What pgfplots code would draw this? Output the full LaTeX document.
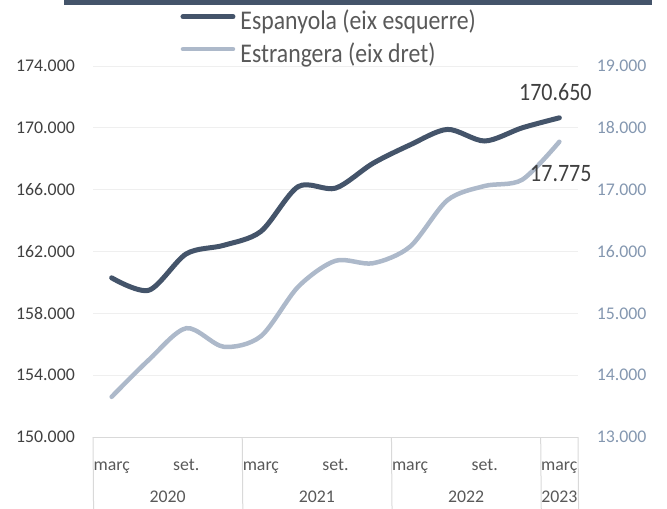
\documentclass[border=0pt]{standalone}
\usepackage{pgfplots}
\pgfplotsset{compat=1.18}
\usepackage{fontspec}
\setmainfont{Carlito}
\newfontfamily\legfont{Carlito}[FakeStretch=0.88]
\definecolor{darkser}{HTML}{44546A}
\definecolor{lightser}{HTML}{ADB9CA}
\definecolor{gridc}{HTML}{EFEFEF}
\definecolor{boxc}{HTML}{D9D9D9}
\definecolor{lefttxt}{HTML}{404040}
\definecolor{righttxt}{HTML}{8497B0}
\definecolor{cattxt}{HTML}{595959}
\definecolor{leadc}{HTML}{A6A6A6}
\pgfplotsset{
  base/.style={
    scale only axis, width=485bp, height=371bp,
    xmin=-0.5, xmax=12.5,
    major tick length=0pt,
    axis line style={draw=none},
    scaled y ticks=false,
    clip=false,
    /pgf/number format/fixed,
    /pgf/number format/precision=0,
    /pgf/number format/1000 sep={.},
    /pgf/number format/assume math mode=true,
    ticklabel style={font=\fontsize{17.8bp}{21bp}\selectfont, inner sep=0pt},
  },
}
\begin{document}
\begin{tikzpicture}
\begin{axis}[base, name=ax,
  ymin=150000, ymax=174000, ytick={150000,154000,158000,162000,166000,170000,174000},
  axis y line*=left, axis x line*=bottom,
  ymajorgrids, grid style={gridc, line width=1bp},
  yticklabel style={anchor=east, xshift=-18bp, text=lefttxt},
  xtick={0,2,4,6,8,10,12},
  xticklabels={març,set.,març,set.,març,set.,març},
  xticklabel style={anchor=base, yshift=-33bp, text=cattxt},
  legend style={draw=none, fill=none, inner sep=0pt, outer sep=0pt,
    at={(axis description cs:0.1804,1.152)}, anchor=north west,
    font=\legfont\fontsize{27bp}{30bp}\selectfont, text=cattxt,
    row sep=6.6bp, column sep=5bp,
    nodes={inner sep=0pt, text height=20bp, text depth=6bp}},
  legend cell align=left,
  legend image code/.code={\draw[#1, line cap=round] (0bp,6bp) -- (50bp,6bp);},
]
\addplot[darkser, line width=5bp, smooth, line cap=round] coordinates {
(0,160300) (1,159500) (2,161850) (3,162400) (4,163300) (5,166200) (6,166100)
(7,167700) (8,168900) (9,169900) (10,169150) (11,170000) (12,170650)};
\addlegendentry{Espanyola (eix esquerre)}
\addlegendimage{lightser, line width=4.5bp}
\addlegendentry{Estrangera (eix dret)}
\node[anchor=base, font=\legfont\fontsize{25bp}{28bp}\selectfont, text=lefttxt, xshift=-4bp, yshift=17bp] at (axis cs:12,170650) {170.650};
% category box
\draw[boxc, line width=1bp] (axis cs:-0.5,150000) -- (axis cs:12.5,150000);
\draw[boxc, line width=1bp] (axis cs:-0.5,150000) -- ++(0,-72bp);
\draw[boxc, line width=1bp] (axis cs:3.5,150000) -- ++(0,-72bp);
\draw[boxc, line width=1bp] (axis cs:7.5,150000) -- ++(0,-72bp);
\draw[boxc, line width=1bp] (axis cs:11.5,150000) -- ++(0,-72bp);
\draw[boxc, line width=1bp] (axis cs:12.5,150000) -- ++(0,-72bp);
\node[anchor=base, font=\fontsize{17.8bp}{21bp}\selectfont, text=cattxt, inner sep=0pt, yshift=-65.7bp] at (axis cs:1.5,150000) {2020};
\node[anchor=base, font=\fontsize{17.8bp}{21bp}\selectfont, text=cattxt, inner sep=0pt, yshift=-65.7bp] at (axis cs:5.5,150000) {2021};
\node[anchor=base, font=\fontsize{17.8bp}{21bp}\selectfont, text=cattxt, inner sep=0pt, yshift=-65.7bp] at (axis cs:9.5,150000) {2022};
\node[anchor=base, font=\fontsize{17.8bp}{21bp}\selectfont, text=cattxt, inner sep=0pt, yshift=-65.7bp] at (axis cs:12,150000) {2023};
\end{axis}
\begin{axis}[base,
  ymin=13000, ymax=19000, ytick={13000,14000,15000,16000,17000,18000,19000},
  axis y line*=right, hide x axis,
  yticklabel style={anchor=west, xshift=18.7bp, text=righttxt},
]
\addplot[lightser, line width=4.5bp, smooth, line cap=round] coordinates {
(0,13650) (1,14250) (2,14760) (3,14460) (4,14630) (5,15430) (6,15850)
(7,15810) (8,16080) (9,16830) (10,17060) (11,17160) (12,17775)};
\draw[leadc, line width=1bp] (axis cs:12,17775) ++(0,-3bp) -- ++(0,-10bp);
\node[anchor=base, font=\legfont\fontsize{25bp}{28bp}\selectfont, text=lefttxt, xshift=1.5bp, yshift=-40bp] at (axis cs:12,17775) {17.775};
\end{axis}
\fill[darkser] (-29.3bp,431.5bp) rectangle (559bp,437bp);
\pgfresetboundingbox
\path (-93bp,-72bp) rectangle (574bp,437bp);
\end{tikzpicture}
\end{document}
